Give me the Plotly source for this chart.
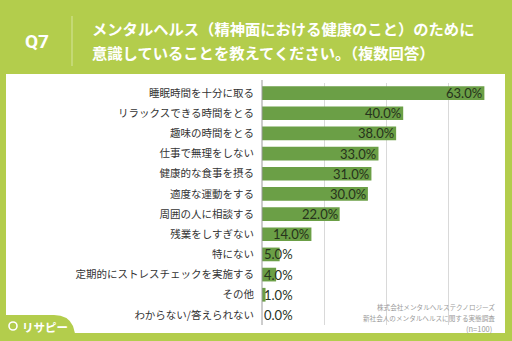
import plotly.graph_objects as go

W, H = 512, 341

categories = [
    "睡眠時間を十分に取る",
    "リラックスできる時間をとる",
    "趣味の時間をとる",
    "仕事で無理をしない",
    "健康的な食事を摂る",
    "適度な運動をする",
    "周囲の人に相談する",
    "残業をしすぎない",
    "特にない",
    "定期的にストレスチェックを実施する",
    "その他",
    "わからない/答えられない",
]
values = [63.0, 40.0, 38.0, 33.0, 31.0, 30.0, 22.0, 14.0, 5.0, 4.0, 1.0, 0.0]
value_labels = [f"{v:.1f}%" for v in values]

title_q = "Q7"
title_lines = [
    "メンタルヘルス（精神面における健康のこと）のために",
    "意識していることを教えてください。（複数回答）",
]
source_lines = [
    "株式会社メンタルヘルステクノロジーズ",
    "新社会人のメンタルヘルスに関する実態調査",
    "(n=100)",
]

GREEN_BG = "#b3cd4c"
BAR = "#6b9f46"
JP = "Noto Sans CJK JP"


def px(x):
    return x / W


def py(y):
    return 1 - y / H


fig = go.Figure()
fig.add_trace(go.Bar(
    x=values, y=categories, orientation="h",
    marker=dict(color=BAR, line=dict(width=0)),
    hoverinfo="skip",
))

# plot area in pixels
x0, x1 = 262, 505
y0, y1 = 83, 325
ppu = 3.53
xmax = (x1 - x0) / ppu

VAL_FONT = dict(family="Lato", size=13, color="#26331c")
annotations = []
for c, v, t in zip(categories, values, value_labels):
    if v >= 10:
        annotations.append(dict(x=v, y=c, xref="x", yref="y", text=t, showarrow=False,
                                xanchor="right", xshift=0, font=VAL_FONT))
    else:
        annotations.append(dict(x=0, y=c, xref="x", yref="y", text=t, showarrow=False,
                                xanchor="left", xshift=0, font=VAL_FONT))

# title
annotations.append(dict(x=px(37), y=py(41), xref="paper", yref="paper", text="<b>" + title_q + "</b>",
                        showarrow=False, xanchor="center", yanchor="middle",
                        font=dict(family="Roboto", size=19, color="white")))
for i, line in enumerate(title_lines):
    annotations.append(dict(x=px(90), y=py(28 + 24 * i), xref="paper", yref="paper",
                            text="<b>" + line + "</b>", showarrow=False,
                            xanchor="left", yanchor="middle",
                            font=dict(family=JP, size=15.3, color="white")))
# source
for i, line in enumerate(source_lines):
    annotations.append(dict(x=px(497 if i < 2 else 494), y=py(307 + 10.5 * i), xref="paper", yref="paper",
                            text=line, showarrow=False, xanchor="right", yanchor="middle",
                            font=dict(family=JP, size=6.6 if i < 2 else 7.5, color="#9a9a9a")))
# logo
annotations.append(dict(x=px(20), y=py(327), xref="paper", yref="paper", text="<b>リサピー</b>",
                        showarrow=False, xanchor="left", yanchor="middle",
                        font=dict(family=JP, size=11.5, color="white")))

shapes = [
    # white panel
    dict(type="rect", xref="paper", yref="paper", x0=px(6), x1=px(505), y0=py(333), y1=py(74),
         fillcolor="white", line=dict(width=0), layer="below"),
    # separator in title
    dict(type="line", xref="paper", yref="paper", x0=px(72), x1=px(72), y0=py(16), y1=py(66),
         line=dict(color="#d6e59c", width=1)),
    # logo tab
    dict(type="path", xref="paper", yref="paper",
         path=(f"M {px(0)},{py(341)} L {px(0)},{py(315)} L {px(54)},{py(315)} "
               f"Q {px(68)},{py(315)} {px(73)},{py(326)} L {px(77)},{py(341)} Z"),
         fillcolor=GREEN_BG, line=dict(width=0)),
    # logo icon
    dict(type="circle", xref="paper", yref="paper", x0=px(9), x1=px(17), y0=py(330), y1=py(322),
         line=dict(color="white", width=1.6)),
    # zero line
    dict(type="line", xref="paper", yref="paper", x0=px(x0), x1=px(x0), y0=py(y1), y1=py(y0 - 3),
         line=dict(color="#9a9a9a", width=1)),
]

fig.update_layout(
    width=W, height=H,
    margin=dict(l=0, r=0, t=0, b=0),
    paper_bgcolor=GREEN_BG, plot_bgcolor="rgba(0,0,0,0)",
    bargap=0.32,
    showlegend=False,
    xaxis=dict(domain=[px(x0), px(x1)], range=[0, xmax],
               tickvals=[17.6, 35.2, 52.8], showticklabels=False,
               showgrid=True, gridcolor="#d9d9d9", gridwidth=1, zeroline=False,
               showline=False, fixedrange=True),
    yaxis=dict(domain=[py(y1), py(y0)], autorange="reversed",
               tickfont=dict(family=JP, size=10.5, color="#333333"),
               ticks="", ticklabelstandoff=7, showgrid=False, zeroline=False, showline=False),
    annotations=annotations,
    shapes=shapes,
)

fig.write_html("out.html")
